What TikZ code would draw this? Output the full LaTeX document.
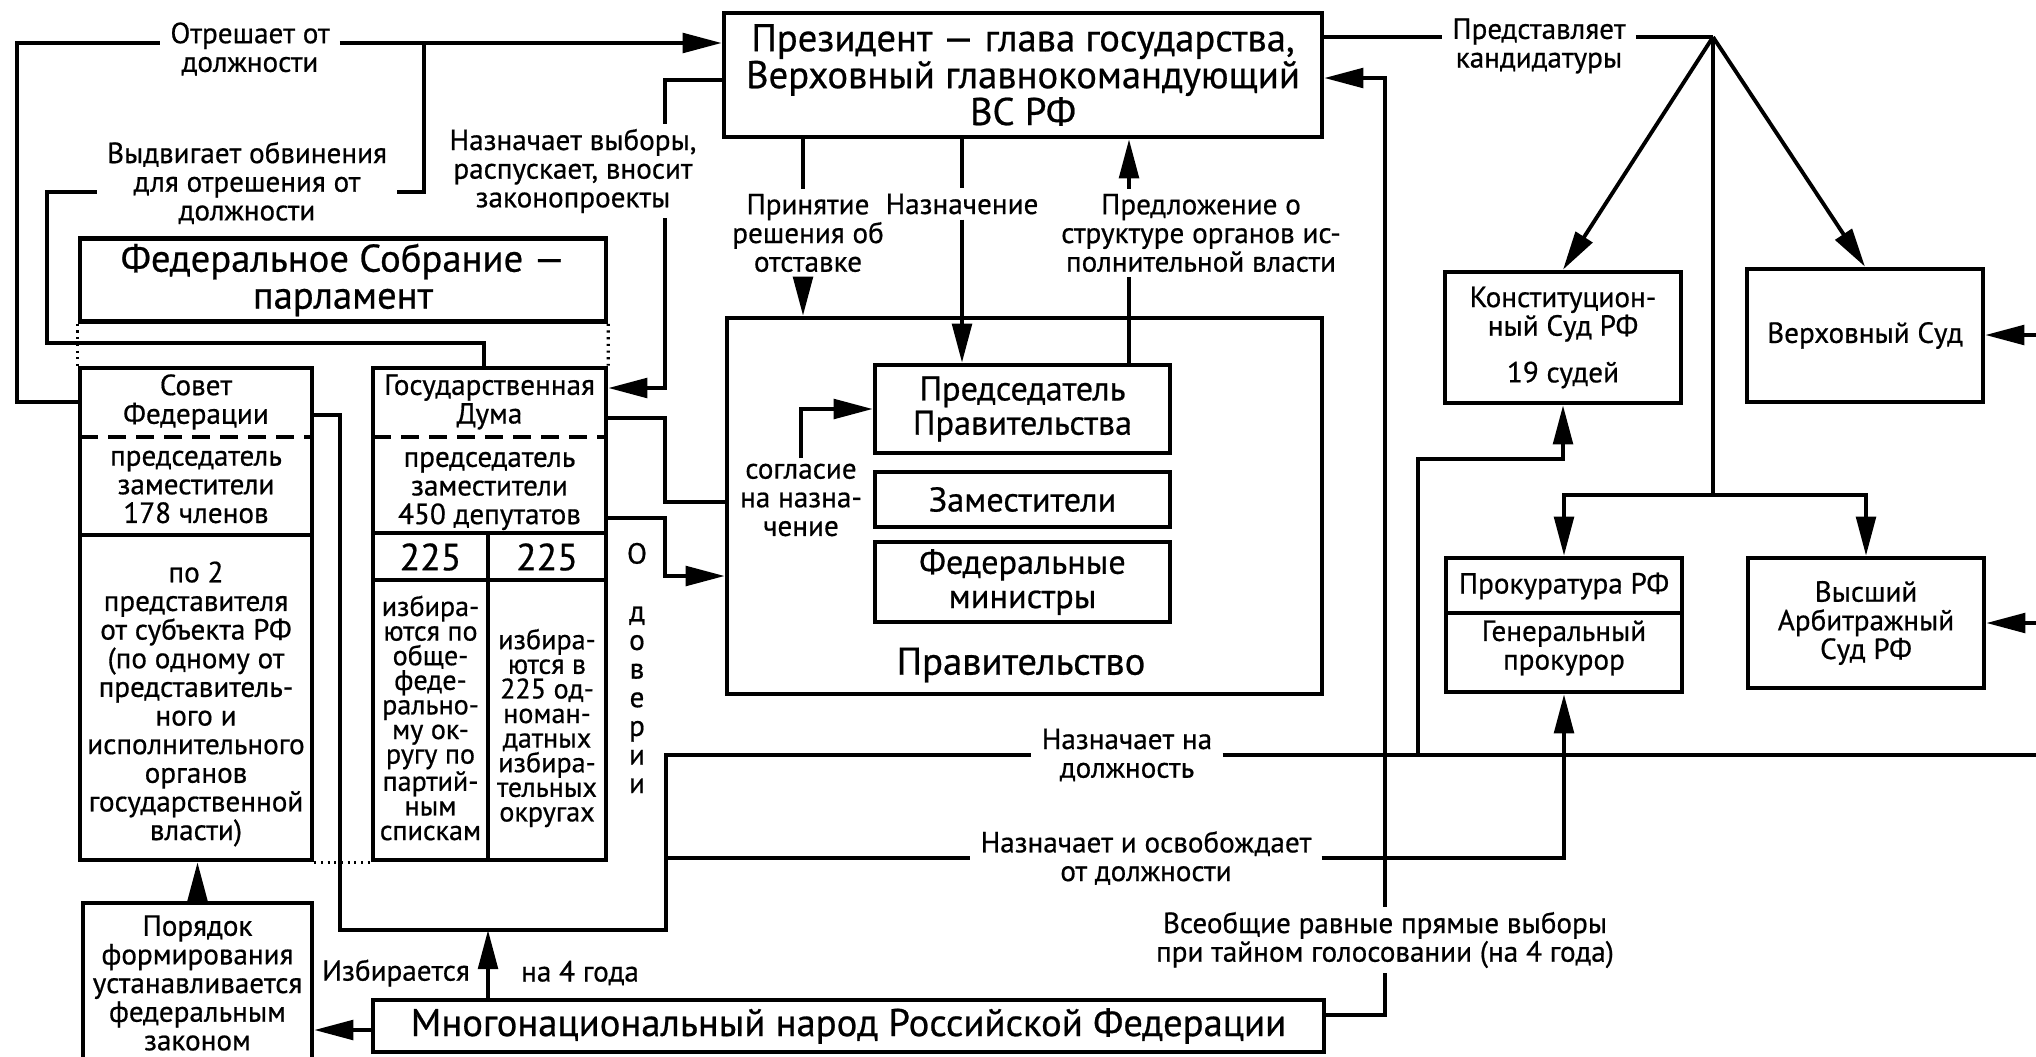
\documentclass[tikz,border=0pt]{standalone}
\usepackage{fontspec}
\setmainfont{PT Sans}[FakeBold=0.6]
\usepackage{tikz}
\usetikzlibrary{arrows.meta, calc, positioning}

\newcommand{\pxu}{0.2mm}
\newcommand{\bigtxt}{\fontsize{22pt}{21pt}\selectfont}
\newcommand{\chairtxt}{\fontsize{19.5pt}{19.5pt}\selectfont}
\newcommand{\normtxt}{\fontsize{16.6pt}{16.3pt}\selectfont}
\newcommand{\colstxt}{\fontsize{16pt}{14pt}\selectfont}
\newcommand{\numtxt}{\fontsize{21.5pt}{22pt}\selectfont}

\tikzset{
    box/.style={draw, line width=2.6pt, inner sep=0pt, align=center},
    txt/.style={align=center, inner sep=0pt, font=\normtxt},
    lbl/.style={align=center, inner xsep=2mm, inner ysep=1mm, font=\normtxt},
    conn/.style={line width=2.2pt},
    arr/.style={conn, -{Triangle[length=7.8mm, width=3.9mm]}},
    sep/.style={line width=2.4pt},
    dsep/.style={line width=2.4pt, dash pattern=on 3.6mm off 2mm},
    dots/.style={line width=1.8pt, dash pattern=on 1.2pt off 2.6pt}
}

\begin{document}
\begin{tikzpicture}[x=0.2mm, y=-0.2mm]
    \useasboundingbox (0,0) rectangle (2036,1056);

    \node[box, minimum width=598*\pxu, minimum height=124*\pxu, font=\bigtxt] (pres) at (1023,75)
        {Президент — глава государства,\\Верховный главнокомандующий\\ВС РФ};
    \node[box, minimum width=526*\pxu, minimum height=83*\pxu, font=\bigtxt] (fs) at (343,280)
        {Федеральное Собрание —\\парламент};

    \node[box, minimum width=232*\pxu, minimum height=492*\pxu] (sovet) at (196,614) {};
    \node[txt] (sovetT) at (196,402) {Совет\\Федерации};
    \node[txt] (sovetM) at (196,487) {председатель\\заместители\\178 членов};
    \node[txt] (sovetR) at (196,704) {по 2\\представителя\\от субъекта РФ\\(по одному от\\представитель-\\ного и\\исполнительного\\органов\\государственной\\власти)};
    \coordinate (sovetS1) at (80,437);
    \coordinate (sovetS2) at (80,535);
    \draw[dsep] (sovetS1) -- (sovetS1 -| sovet.east);
    \draw[sep] (sovetS2) -- (sovetS2 -| sovet.east);

    \node[box, minimum width=233*\pxu, minimum height=492*\pxu] (duma) at (489.5,614) {};
    \node[txt] (dumaT) at (489.5,402) {Государственная\\Дума};
    \node[txt] (dumaM) at (489.5,491) {председатель\\заместители\\450 депутатов};
    \node[txt, font=\numtxt] (dumaA) at (430.5,557) {225};
    \node[txt, font=\numtxt] (dumaB) at (547,557) {225};
    \node[txt, font=\colstxt] (dumaL) at (430.5,718) {избира-\\ются по\\обще-\\феде-\\рально-\\му ок-\\ругу по\\партий-\\ным\\спискам};
    \node[txt, font=\colstxt] (dumaR) at (547,728) {избира-\\ются в\\225 од-\\номан-\\датных\\избира-\\тельных\\округах};
    \coordinate (dumaS1) at (373,437);
    \coordinate (dumaS2) at (373,533);
    \coordinate (dumaS3) at (373,580);
    \draw[dsep] (dumaS1) -- (dumaS1 -| duma.east);
    \draw[sep] (dumaS2) -- (dumaS2 -| duma.east);
    \draw[sep] (dumaS3) -- (dumaS3 -| duma.east);
    \draw[sep] (dumaS2 -| 488,0) -- (duma.south -| 488,0);
    \node[txt] (dover) at (637,668) {О\\[5.8mm]д\\о\\в\\е\\р\\и\\и};

    \draw[dots] (fs.south west) -- (sovet.north west);
    \draw[dots] (fs.south east) -- (duma.north east);
    \draw[dots] (sovet.south east) -- (duma.south west);

    \node[box, minimum width=595*\pxu, minimum height=376*\pxu] (gov) at (1024.5,506) {};
    \node[box, minimum width=295*\pxu, minimum height=88*\pxu, font=\chairtxt] (chair) at (1022.5,409) {Председатель\\Правительства};
    \node[box, minimum width=295*\pxu, minimum height=55*\pxu, font=\chairtxt] (deput) at (1022.5,499.5) {Заместители};
    \node[box, minimum width=295*\pxu, minimum height=80*\pxu, font=\chairtxt] (minist) at (1022.5,582) {Федеральные\\министры};
    \node[txt, font=\bigtxt] (govT) at (1021,665) {Правительство};
    \node[lbl] (soglL) at (801,500) {согласие\\на назна-\\чение};

    \node[box, minimum width=236*\pxu, minimum height=131*\pxu, font=\normtxt] (ks) at (1563,337.5) {Конституцион-\\ный Суд РФ\\[3.6mm]19 судей};
    \node[box, minimum width=236*\pxu, minimum height=133*\pxu, font=\normtxt] (vs) at (1865,335.5) {Верховный Суд};
    \node[box, minimum width=236*\pxu, minimum height=134*\pxu] (prok) at (1564,625) {};
    \node[txt] (prokT) at (1564,586) {Прокуратура РФ};
    \node[txt] (prokG) at (1564,648) {Генеральный\\прокурор};
    \coordinate (prokS) at (1446,613);
    \draw[sep] (prokS) -- (prokS -| prok.east);
    \node[box, minimum width=236*\pxu, minimum height=130*\pxu, font=\normtxt] (vas) at (1866,623) {Высший\\Арбитражный\\Суд РФ};

    \node[box, minimum width=951*\pxu, minimum height=52*\pxu, font=\bigtxt] (narod) at (848.5,1026) {Многонациональный народ Российской Федерации};
    \node[box, minimum width=229*\pxu, minimum height=160*\pxu, font=\normtxt] (order) at (197.5,983) {Порядок\\формирования\\устанавливается\\федеральным\\законом};

    \node[lbl] (otrL) at (250,49) {Отрешает от\\должности};
    \node[lbl] (vydL) at (247,183) {Выдвигает обвинения\\для отрешения от\\должности};
    \node[lbl] (naznL) at (573,171) {Назначает выборы,\\распускает, вносит\\законопроекты};
    \node[lbl] (otstL) at (808,233) {Принятие\\решения об\\отставке};
    \node[lbl] (naznachL) at (962,204) {Назначение};
    \node[lbl] (predL) at (1201,233) {Предложение о\\структуре органов ис-\\полнительной власти};
    \node[lbl] (predstL) at (1539,46) {Представляет\\кандидатуры};
    \node[lbl] (naznDL) at (1127,755) {Назначает на\\должность};
    \node[lbl] (osvL) at (1146,858) {Назначает и освобождает\\от должности};
    \node[lbl] (vsL) at (1385,940) {Всеобщие равные прямые выборы\\при тайном голосовании (на 4 года)};
    \node[lbl] (izbL) at (396,973) {Избирается};
    \node[lbl] (izbR) at (580,973) {на 4 года};

    \draw[conn] (sovet.west |- sovetT) -| (17,43) -- (otrL.west |- 0,43);
    \draw[arr] (otrL.east |- 0,43) -- (pres.west |- 0,43);
    \draw[conn] (duma.north -| 484,0) |- (47,343) |- (vydL.west |- 0,192);
    \draw[conn] (vydL.east |- 0,192) -| (424,43);
    \draw[conn] (pres.west |- 0,80) -| (naznL.north -| 665,0);
    \draw[arr] (naznL.south -| 665,0) |- (duma.east |- 0,388);

    \draw[conn] (pres.south -| 803,0) -- (otstL.north -| 803,0);
    \draw[arr] (otstL.south -| 803,0) -- (gov.north -| 803,0);
    \draw[conn] (pres.south -| naznachL) -- (naznachL.north);
    \draw[arr] (naznachL.south) -- (chair.north -| naznachL);
    \draw[arr] (predL.north -| 1129,0) -- (pres.south -| 1129,0);
    \draw[conn] (chair.north -| 1129,0) -- (predL.south -| 1129,0);
    \draw[arr] (soglL.north) |- (chair.west);

    \draw[conn] (duma.east |- 0,418) -| (665,502) -- (gov.west |- 0,502);
    \draw[arr] (duma.east |- 0,518) -| (665,576) -- (gov.west |- 0,576);

    \coordinate (apex) at (1713,37);
    \coordinate (fork) at (1713,495);
    \draw[conn] (pres.east |- apex) -- (predstL.west |- apex);
    \draw[conn] (predstL.east |- apex) -- (apex);
    \draw[arr] (apex) -- (ks.north);
    \draw[arr] (apex) -- (vs.north);
    \draw[conn] (apex) -- (fork);
    \draw[arr] (fork) -| (prok.north);
    \draw[arr] (fork) -| (vas.north);
    \coordinate (vsIn) at (2036,335);
    \coordinate (vasIn) at (2036,623);
    \coordinate (naznOut) at (2036,755);
    \draw[arr] (vsIn) -- (vs.east |- vsIn);
    \draw[arr] (vasIn) -- (vas.east |- vasIn);

    \coordinate (sfDown) at (340,930);
    \coordinate (dumaDown) at (666,930);
    \draw[conn] (sovet.east |- 0,415) -| (sfDown) -- (dumaDown) |- (naznDL.west);
    \draw[conn] (naznDL.east) -- (naznOut);
    \draw[arr] (naznDL.east -| 1418,0) |- (ks.south |- 0,459) -- (ks.south);
    \draw[conn] (dumaDown |- osvL) -- (osvL.west);
    \draw[arr] (osvL.east) -| (prok.south);
    \draw[conn] (narod.east |- 0,1015) -| (vsL.south);
    \draw[arr] (vsL.north) |- (pres.east |- 0,78);
    \draw[arr] (narod.north -| 488,0) -- (dumaDown -| 488,0);
    \draw[arr] (narod.west |- 0,1030) -- (order.east |- 0,1030);
    \draw[arr] (order.north) -- (order.north |- sovet.south);
\end{tikzpicture}
\end{document}
